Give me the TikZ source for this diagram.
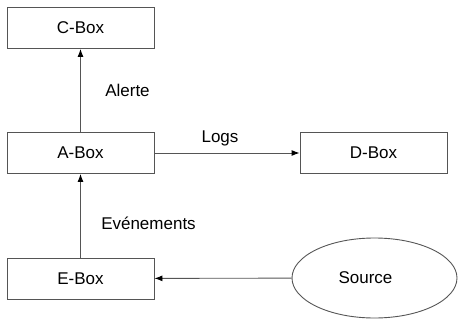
\documentclass[tikz,border=0pt]{standalone}
\usepackage{fontspec}
\setmainfont{Liberation Sans}
\usetikzlibrary{arrows.meta}
\usetikzlibrary{shapes.geometric}
\definecolor{ash}{RGB}{85,85,85}
\tikzset{
    box/.style={draw=ash, line width=0.9pt, minimum width=147pt, minimum height=41pt,
        inner sep=0pt, font=\fontsize{17}{19}\selectfont},
    source/.style={ellipse, draw=ash, line width=0.9pt, minimum width=165pt, minimum height=80pt,
        inner sep=0pt, font=\fontsize{17}{19}\selectfont},
    flow/.style={draw=ash, line width=0.9pt, -{Latex[length=8pt,width=6pt,color=black]}},
    tag/.style={font=\fontsize{17}{19}\selectfont, inner sep=0pt},
}

\begin{document}
\begin{tikzpicture}[x=1pt, y=-1pt]
\useasboundingbox (0,0) rectangle (458,321);

\node[box] (cbox) at (80.5, 28) {C-Box};
\node[box] (abox) at (80.5, 153) {A-Box};
\node[box] (dbox) at (373.5, 153) {D-Box};
\node[box] (ebox) at (80.5, 278.5) {E-Box};
\node[source] (src) at (374.5, 278) {\hspace*{-18pt}Source};

\draw[flow] (abox) -- (cbox);
\draw[flow] (abox) -- (dbox);
\draw[flow] (ebox) -- (abox);
\draw[flow] (src) -- (ebox);

\node[tag] at (127.5, 90) {Alerte};
\node[tag] at (220, 138) {Logs};
\node[tag] at (148.5, 223) {Evénements};

\end{tikzpicture}
\end{document}
